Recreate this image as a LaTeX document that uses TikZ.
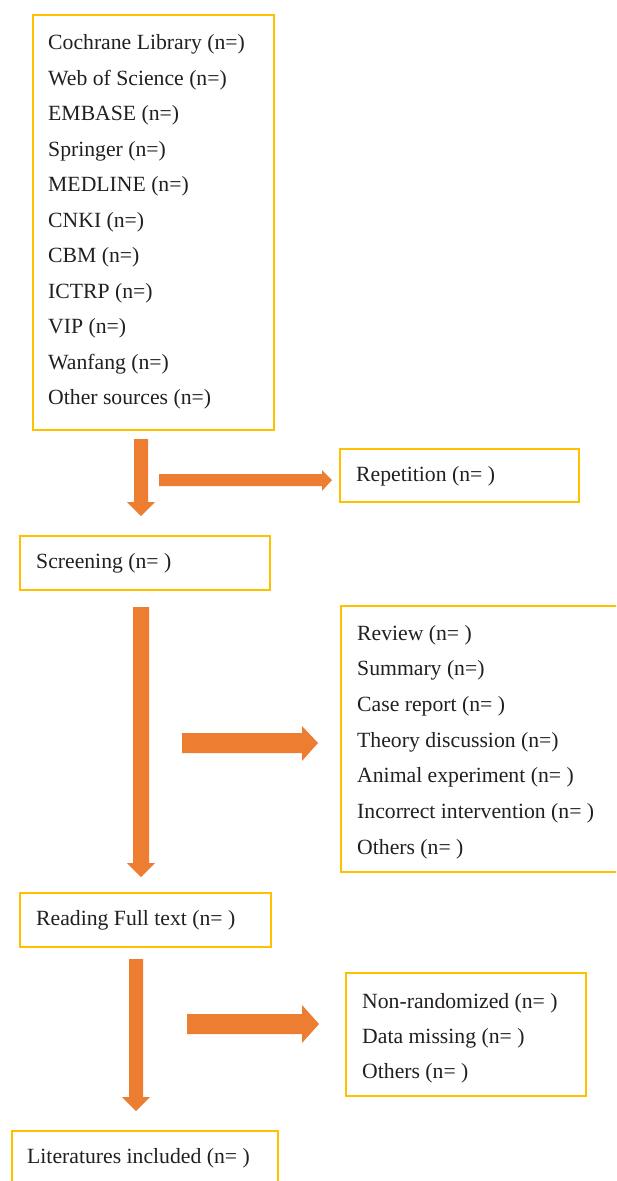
\documentclass[tikz,border=0pt]{standalone}
\usepackage{fontspec}
\setmainfont{Liberation Serif}
\usetikzlibrary{fit}
\definecolor{boxgold}{HTML}{FFC000}
\definecolor{arroworange}{HTML}{ED7D31}
\definecolor{txtgray}{HTML}{231F20}
\begin{document}
\begin{tikzpicture}[x=1pt,y=-1pt,
  box/.style={draw=boxgold, line width=2pt, inner sep=0pt},
  txt/.style={anchor=base west, inner sep=0pt, text=txtgray, font=\fontsize{21.7}{26}\selectfont},
  fat/.style={fill=arroworange, draw=none}]
\path[use as bounding box] (0,0) rectangle (616,1181);
\clip (0,0) rectangle (616,1181);

% boxes
\node[box, fit={(33,15) (274,430)}] (src) {};
\node[box, fit={(340,449) (579,502)}] (rep) {};
\node[box, fit={(20,536) (270,590)}] (scr) {};
\node[box, fit={(341,606) (640,872)}] (rsn) {};
\node[box, fit={(20,893) (271,947)}] (full) {};
\node[box, fit={(346,973) (586,1096)}] (exc) {};
\node[box, fit={(12,1131) (278,1200)}] (lit) {};

% texts
\foreach \t [count=\i from 0] in {Cochrane Library (n=), Web of Science (n=), EMBASE (n=), Springer (n=), MEDLINE (n=), CNKI (n=), CBM (n=), ICTRP (n=), VIP (n=), Wanfang (n=), Other sources (n=)}
  \node[txt] (srct\i) at (48,49.5+35.5*\i) {\t};
\node[txt] (rept) at (356,481) {Repetition (n= )};
\node[txt] (scrt) at (36,568) {Screening (n= )};
\foreach \t [count=\i from 0] in {Review (n= ), Summary (n=), Case report (n= ), Theory discussion (n=), Animal experiment (n= ), Incorrect intervention (n= ), Others (n= )}
  \node[txt] (rsnt\i) at (357,640+35.7*\i) {\t};
\node[txt] (fullt) at (36,925) {Reading Full text (n= )};
\foreach \t [count=\i from 0] in {Non-randomized (n= ), Data missing (n= ), Others (n= )}
  \node[txt] (exct\i) at (362,1008+35*\i) {\t};
\node[txt] (litt) at (27,1163) {Literatures included (n= )};

% fat arrows
\fill[fat] (134,439) -- (148,439) -- (148,502) -- (155,502) -- (141,516) -- (127,502) -- (134,502) -- cycle;
\fill[fat] (133,607) -- (149,607) -- (149,863) -- (155,863) -- (141,877) -- (127,863) -- (133,863) -- cycle;
\fill[fat] (129,959) -- (143,959) -- (143,1097) -- (150,1097) -- (136,1111) -- (122,1097) -- (129,1097) -- cycle;
\fill[fat] (159,474) -- (322,474) -- (322,470) -- (332,480) -- (322,491) -- (322,486) -- (159,486) -- cycle;
\fill[fat] (182,733) -- (302,733) -- (302,726) -- (318,743) -- (302,761) -- (302,753) -- (182,753) -- cycle;
\fill[fat] (187,1014) -- (302,1014) -- (302,1005) -- (319,1024) -- (302,1043) -- (302,1034) -- (187,1034) -- cycle;
\end{tikzpicture}
\end{document}
